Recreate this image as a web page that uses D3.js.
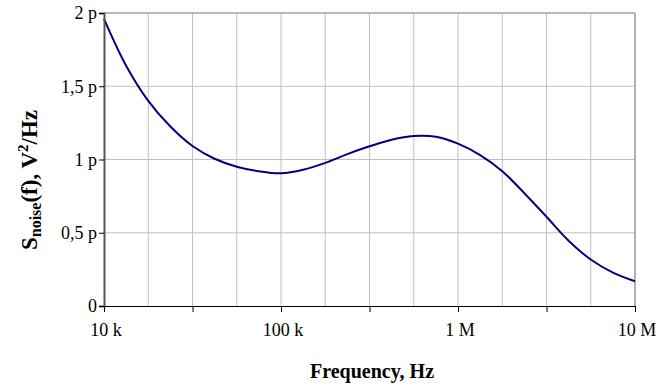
<!DOCTYPE html>
<html>
<head>
<meta charset="utf-8">
<script src="https://cdn.jsdelivr.net/npm/d3@7"></script>
<style>
  body { margin: 0; background: #fff; }
  svg text { font-family: "Liberation Serif", "Times New Roman", serif !important; }
</style>
</head>
<body>
<svg id="chart"></svg>
<script>
// frequency points (Hz), read every 1/8 decade
const freqs = [10000, 13335, 17783, 23714, 31623, 42170, 56234, 74989,
  100000, 133352, 177828, 237137, 316228, 421697, 562341, 749894,
  1000000, 1333521, 1778279, 2371374, 3162278, 4216965, 5623413, 7498942, 10000000];
// noise spectral density, in pV^2/Hz
const snoise = [1.96, 1.64, 1.40, 1.225, 1.092, 1.005, 0.951, 0.92,
  0.906, 0.93, 0.977, 1.037, 1.09, 1.135, 1.16, 1.155,
  1.108, 1.03, 0.92, 0.77, 0.609, 0.446, 0.317, 0.228, 0.169];

const yTicks = [0, 0.5, 1, 1.5, 2];
const yTickLabels = ["0", "0,5 p", "1 p", "1,5 p", "2 p"];
const xLabelVals = [1e4, 1e5, 1e6, 1e7];
const xLabelText = ["10 k", "100 k", "1 M", "10 M"];
// tick marks every half decade, grid every quarter decade
const xTickExp = [4, 4.5, 5, 5.5, 6, 6.5, 7];
const xGridExp = [4.25, 4.5, 4.75, 5, 5.25, 5.5, 5.75, 6, 6.25, 6.5, 6.75];

const width = 670, height = 389;
const margin = { top: 13, right: 35, bottom: 83, left: 104 };

const svg = d3.select("#chart")
  .attr("width", width)
  .attr("height", height);

const x = d3.scaleLog()
  .domain([1e4, 1e7])
  .range([margin.left, width - margin.right]);

const y = d3.scaleLinear()
  .domain([0, 2])
  .range([height - margin.bottom, margin.top]);

// grid
svg.append("g")
  .selectAll("line")
  .data(xGridExp)
  .join("line")
    .attr("x1", d => x(Math.pow(10, d)))
    .attr("x2", d => x(Math.pow(10, d)))
    .attr("y1", y(0))
    .attr("y2", y(2))
    .attr("stroke", "#c0c0c0");

svg.append("g")
  .selectAll("line")
  .data(yTicks.slice(1, -1))
  .join("line")
    .attr("x1", x(1e4))
    .attr("x2", x(1e7))
    .attr("y1", d => y(d))
    .attr("y2", d => y(d))
    .attr("stroke", "#c0c0c0");

// frame: top and right in gray
svg.append("line")
  .attr("x1", x(1e4)).attr("x2", x(1e7))
  .attr("y1", y(2)).attr("y2", y(2))
  .attr("stroke", "#a0a0a0").attr("stroke-width", 1.5);
svg.append("line")
  .attr("x1", x(1e7)).attr("x2", x(1e7))
  .attr("y1", y(2)).attr("y2", y(0))
  .attr("stroke", "#b0b0b0").attr("stroke-width", 2);

// curve
const line = d3.line()
  .x((d, i) => x(freqs[i]))
  .y(d => y(d))
  .curve(d3.curveCatmullRom.alpha(0.5));

svg.append("path")
  .datum(snoise)
  .attr("fill", "none")
  .attr("stroke", "#000080")
  .attr("stroke-width", 2)
  .attr("d", line);

// y axis
const yAxis = svg.append("g")
  .attr("transform", `translate(${margin.left},0)`)
  .call(d3.axisLeft(y)
    .tickValues(yTicks)
    .tickFormat((d, i) => yTickLabels[i])
    .tickSize(5)
    .tickPadding(2));
yAxis.select(".domain").attr("stroke", "#555").attr("stroke-width", 2);
yAxis.selectAll(".tick line").attr("stroke", "#000");
yAxis.selectAll("text")
  .attr("font-size", 18)
  .attr("fill", "#000");

// x axis: marks at half decades, labels at decades
const xAxis = svg.append("g")
  .attr("transform", `translate(0,${height - margin.bottom})`)
  .call(d3.axisBottom(x)
    .tickValues(xTickExp.map(e => Math.pow(10, e)))
    .tickFormat("")
    .tickSize(6)
    .tickSizeOuter(0));
xAxis.select(".domain").attr("stroke", "#000");

svg.append("g")
  .selectAll("text")
  .data(xLabelVals)
  .join("text")
    .attr("x", d => x(d) + 2)
    .attr("y", 336)
    .attr("text-anchor", "middle")
    .attr("font-size", 18)
    .text((d, i) => xLabelText[i]);

// axis titles
svg.append("text")
  .attr("x", 372)
  .attr("y", 378)
  .attr("text-anchor", "middle")
  .attr("font-size", 20)
  .attr("font-weight", "bold")
  .text("Frequency, Hz");

const yTitle = svg.append("text")
  .attr("transform", "translate(37,180) rotate(-90)")
  .attr("text-anchor", "middle")
  .attr("font-size", 23)
  .attr("font-weight", "bold");
yTitle.append("tspan").text("S");
yTitle.append("tspan").attr("font-size", 16).attr("dy", 4).text("noise");
yTitle.append("tspan").attr("dy", -4).text("(f), V");
yTitle.append("tspan").attr("font-size", 15).attr("dy", -9).text("2");
yTitle.append("tspan").attr("dy", 9).text("/Hz");
</script>
</body>
</html>
